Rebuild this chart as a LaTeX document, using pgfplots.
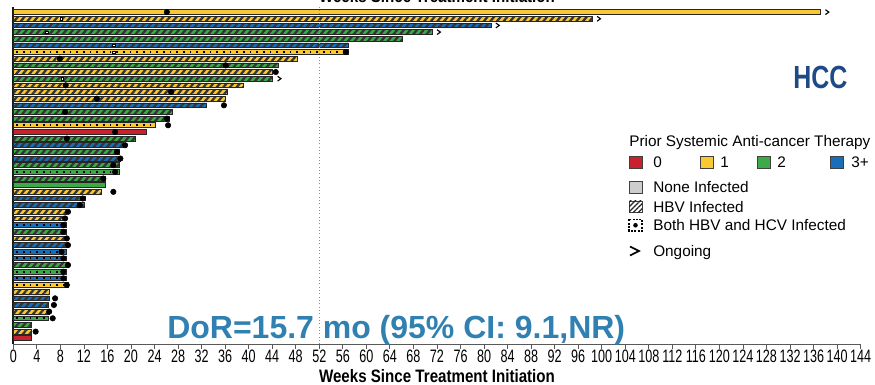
\documentclass[border=0pt]{standalone}
\usepackage{fontspec}
\setmainfont{Liberation Sans}
\newfontfamily\narrowfont[FakeStretch=0.84]{Liberation Sans}
\newfontfamily\hccfont[FakeStretch=0.78]{Liberation Sans}
\newfontfamily\ticknarrow[FakeStretch=0.7]{Liberation Sans}
\usepackage{pgfplots}
\pgfplotsset{compat=1.18}
\usetikzlibrary{patterns.meta}
\definecolor{cred}{RGB}{200,35,45}
\definecolor{cyel}{RGB}{250,200,50}
\definecolor{cgrn}{RGB}{60,170,70}
\definecolor{cblu}{RGB}{25,110,185}
\definecolor{cgry}{RGB}{205,205,205}
\definecolor{hcc}{RGB}{30,75,135}
\definecolor{dor}{RGB}{48,128,178}
\pgfdeclareplotmark{chev}{%
  \pgfpathmoveto{\pgfqpoint{-0.7\pgfplotmarksize}{\pgfplotmarksize}}%
  \pgfpathlineto{\pgfqpoint{0.7\pgfplotmarksize}{0pt}}%
  \pgfpathlineto{\pgfqpoint{-0.7\pgfplotmarksize}{-\pgfplotmarksize}}%
  \pgfusepathqstroke}
\tikzset{
  hatch/.style={postaction={pattern={Lines[angle=50,distance=3.8pt,line width=1.7pt]},pattern color=black!80}},
}
\pgfplotsset{
  sbar/.style={xbar, bar shift=0pt, bar width=3.6pt, draw=black!85, line width=0.6pt, forget plot},
  dline/.style={black, line width=1.5pt, dash pattern=on 1.4pt off 3.6pt, forget plot},
}
\begin{document}
\begin{tikzpicture}
\useasboundingbox (0,0) rectangle (656.25pt,288.75pt);
\begin{axis}[
  at={(9.975pt,30.75pt)}, anchor=south west,
  scale only axis, width=635.5pt, height=252.9pt,
  xmin=0, xmax=144, ymin=0.14, ymax=50.8,
  clip=false,
  axis x line*=bottom, axis y line*=left,
  x axis line style={black!65, line width=0.6pt, -},
  y axis line style={black!90, line width=1.3pt, -},
  xtick={0,4,...,144}, ytick=\empty,
  tick align=outside, major tick length=3.5pt,
  x tick style={black!65, line width=0.6pt},
  /pgf/number format/assume math mode=true,
  xticklabel style={font=\ticknarrow\fontsize{13.5}{15}\selectfont, inner sep=1pt},
]
% solid bars
\addplot[sbar, fill=cyel] coordinates {(137.1,50)};
\addplot[sbar, fill=cred] coordinates {(22.7,32)(3.1,1)};
\addplot[sbar, fill=cgrn] coordinates {(15.7,24)};
% hatched bars (HBV)
\addplot[sbar, fill=cyel, hatch] coordinates {(98.4,49)(48.2,43)(44.1,41)(39.1,39)(36.3,38)(36.1,37)(15.0,23)(9.1,20)(9.1,19)(9.1,16)(6.1,8)(6.2,5)(3.1,2)};
\addplot[sbar, fill=cblu, hatch] coordinates {(81.2,48)(56.9,45)(32.9,36)(18.7,30)(18.2,28)(12.2,22)(12.1,21)(9.3,15)(6.1,7)(5.9,6)};
\addplot[sbar, fill=cgrn, hatch] coordinates {(71.2,47)(66.1,46)(45.0,42)(44.1,40)(27.1,35)(26.6,34)(20.8,31)(18.0,29)(18.0,27)(15.6,25)(9.1,17)(9.3,12)(3.1,3)};
% dotted bars (HBV and HCV)
\addplot[sbar, fill=cyel] coordinates {(56.9,44)(24.2,33)(9.3,9)};
\addplot[sbar, fill=cgrn] coordinates {(18.0,26)(9.1,11)(5.9,4)};
\addplot[sbar, fill=cblu] coordinates {(9.1,18)(9.1,14)(9.1,13)(9.1,10)};
\addplot[dline] coordinates {(0.5,44)(56.4,44)};
\addplot[dline] coordinates {(0.5,33)(23.7,33)};
\addplot[dline] coordinates {(0.5,9)(8.8,9)};
\addplot[dline] coordinates {(0.5,26)(17.5,26)};
\addplot[dline] coordinates {(0.5,11)(8.6,11)};
\addplot[dline] coordinates {(0.5,4)(5.4,4)};
\addplot[dline] coordinates {(0.5,18)(8.6,18)};
\addplot[dline] coordinates {(0.5,14)(8.6,14)};
\addplot[dline] coordinates {(0.5,13)(8.6,13)};
\addplot[dline] coordinates {(0.5,10)(8.6,10)};
% white marks
\addplot[only marks, mark=square*, mark size=0.9pt, mark options={fill=white, draw=none}, forget plot]
  coordinates {(8.2,49)(5.7,47)(17.1,45)(17.1,44)(8.3,40)};
% reference line
\addplot[black!45, line width=0.5pt, dotted, forget plot] coordinates {(52,0.14)(52,50.8)};
% response dots
\addplot[only marks, mark=*, mark size=2.05pt, black, forget plot] coordinates {
(26.1,50)(56.5,44)(7.9,43)(36.1,42)(44.6,41)(8.9,39)(26.8,38)(14.2,37)(35.8,36)(8.8,35)
(26.1,34)(26.3,33)(17.3,32)(9.1,31)(19.0,30)(17.6,29)(18.2,28)(17.0,27)(17.3,26)(15.3,25)
(17.0,23)(11.8,22)(11.3,21)(9.3,20)(8.8,19)(8.5,18)(8.5,17)(9.1,16)(9.3,15)(8.2,14)
(8.5,13)(9.3,12)(8.5,11)(8.5,10)(9.1,9)(7.1,7)(6.9,6)(6.1,5)(6.7,4)(3.8,2)};
% ongoing
\addplot[only marks, mark=chev, mark size=1.8pt, black, line width=0.85pt, forget plot]
  coordinates {(138.3,50)(99.5,49)(82.3,48)(72.3,47)(45.2,40)};
\end{axis}
\begin{scope}[x=0.75pt, y=-0.75pt, yshift=288.75pt]
\node[font=\fontsize{24}{28}\selectfont\bfseries, text=dor, anchor=base west, inner sep=0] at (167,339) {DoR=15.7 mo (95\% CI: 9.1,NR)};
\node[font=\hccfont\bfseries\fontsize{24}{28}\selectfont, text=hcc, anchor=base west, inner sep=0] at (793,89) {HCC};
\node[font=\narrowfont\bfseries\fontsize{13.5}{16}\selectfont, anchor=base, inner sep=0] at (437,382.8) {Weeks Since Treatment Initiation};
\node[font=\narrowfont\bfseries\fontsize{13.5}{16}\selectfont, anchor=base, inner sep=0] at (437,2.7) {Weeks Since Treatment Initiation};
% legend
\begin{scope}[font=\fontsize{11.5}{13}\selectfont]
\node[anchor=base west, inner sep=0] at (629,146.5) {Prior Systemic Anti-cancer Therapy};
\draw[fill=cred, draw=black!75, line width=0.5pt] (629,156.5) rectangle (642,168);
\node[anchor=base west, inner sep=0] at (653,167.5) {0};
\draw[fill=cyel, draw=black!75, line width=0.5pt] (700,156.5) rectangle (713,168);
\node[anchor=base west, inner sep=0] at (720,167.5) {1};
\draw[fill=cgrn, draw=black!75, line width=0.5pt] (757,156.5) rectangle (770,168);
\node[anchor=base west, inner sep=0] at (777,167.5) {2};
\draw[fill=cblu, draw=black!75, line width=0.5pt] (830,156.5) rectangle (843,168);
\node[anchor=base west, inner sep=0] at (851,167.5) {3+};
\draw[fill=cgry, draw=black!75, line width=0.5pt] (629,181.5) rectangle (642,193);
\node[anchor=base west, inner sep=0] at (653,193) {None Infected};
\draw[fill=white, draw=black!75, line width=0.5pt, postaction={pattern={Lines[angle=45,distance=2.6pt,line width=0.9pt]},pattern color=black!85}] (629,201) rectangle (642,212.5);
\node[anchor=base west, inner sep=0] at (653,212.5) {HBV Infected};
\draw[fill=white, draw=black, line width=0.9pt, dash pattern=on 1.5pt off 1pt] (629,219.5) rectangle (642,231);
\fill[black] (635.5,225.25) circle (2.3);
\node[anchor=base west, inner sep=0] at (653,231) {Both HBV and HCV Infected};
\draw[black, line width=1.3pt] (630,246.5) -- (639,251) -- (630,255.5);
\node[anchor=base west, inner sep=0] at (653,256.5) {Ongoing};
\end{scope}
\end{scope}
\end{tikzpicture}
\end{document}
